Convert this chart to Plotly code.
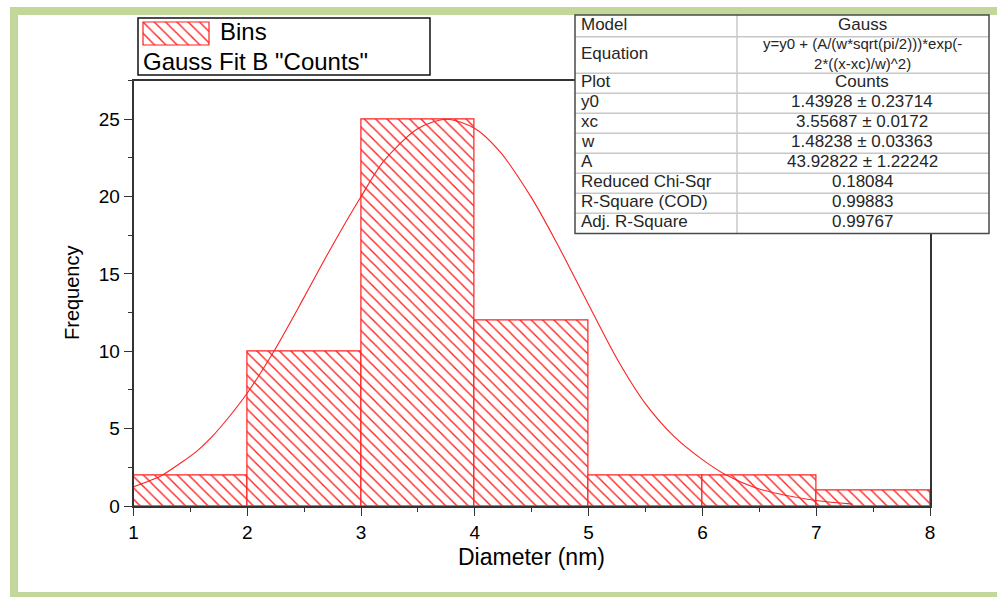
import plotly.graph_objects as go

W, H = 997, 597

# ---------------- data ----------------
bin_left = [1, 2, 3, 4, 5, 6, 7]
bin_right = [2, 3, 4, 5, 6, 7, 8]
bin_counts = [2, 10, 25, 12, 2, 2, 1]

fit_x = [1.0, 1.24, 1.41, 1.55, 1.68, 1.85, 2.0, 2.23, 2.5, 2.73, 3.0, 3.2, 3.5,
         3.75, 4.0, 4.22, 4.5, 4.72, 5.0, 5.25, 5.5, 5.75, 6.0, 6.21, 6.5, 7.0, 7.32]
fit_y = [1.25, 1.94, 2.76, 3.5, 4.4, 5.85, 7.3, 9.95, 13.5, 16.6, 20.0, 22.3, 24.4,
         25.0, 24.4, 22.9, 19.9, 17.0, 13.0, 9.5, 6.6, 4.5, 3.0, 2.0, 1.1, 0.35, 0.12]

x_ticks = [1, 2, 3, 4, 5, 6, 7, 8]
y_ticks = [0, 5, 10, 15, 20, 25]

table_labels = ["Model", "Equation", "Plot", "y0", "xc", "w", "A",
                "Reduced Chi-Sqr", "R-Square (COD)", "Adj. R-Square"]
table_values = ["Gauss", "y=y0 + (A/(w*sqrt(pi/2)))*exp(-<br>2*((x-xc)/w)^2)", "Counts",
                "1.43928 ± 0.23714", "3.55687 ± 0.0172", "1.48238 ± 0.03363",
                "43.92822 ± 1.22242", "0.18084", "0.99883", "0.99767"]

legend_labels = ["Bins", 'Gauss Fit B "Counts"']
x_title = "Diameter (nm)"
y_title = "Frequency"

# ---------------- layout constants (pixels) ----------------
FONT = "Liberation Sans, Arial, sans-serif"
RED = "#ff2020"
AXC = "#333333"
GREEN = "#c4d79b"

PLOT_L, PLOT_R, PLOT_T, PLOT_B = 133.5, 930, 80.5, 506
SWATCH = (143, 209, 22, 45)        # left, right, top, bottom
LEGEND_BOX = (138, 430, 18, 75)

TAB_L, TAB_M, TAB_R = 575, 737, 989
TAB_ROW_EDGES = [15, 36.7, 73.3, 93.3, 113.3, 133.3, 153.3, 173.3, 193.3, 213.3, 233.5]


def fx(px):
    return px / W


def fy(py):
    return 1 - py / H


def prect(x0, x1, y0, y1, **kw):
    d = dict(type="rect", xref="paper", yref="paper",
             x0=fx(x0), x1=fx(x1), y0=fy(y1), y1=fy(y0))
    d.update(kw)
    return d


def pline(x0, y0, x1, y1, **kw):
    d = dict(type="line", xref="paper", yref="paper",
             x0=fx(x0), x1=fx(x1), y0=fy(y0), y1=fy(y1))
    d.update(kw)
    return d


fig = go.Figure()

hatch = dict(shape="\\", size=8, solidity=0.17, fgcolor=RED, bgcolor="white", fillmode="replace")

# histogram bars
centers = [(a + b) / 2 for a, b in zip(bin_left, bin_right)]
widths = [b - a for a, b in zip(bin_left, bin_right)]
fig.add_trace(go.Bar(
    x=centers, y=bin_counts, width=widths,
    marker=dict(color="white", line=dict(color=RED, width=1.2), pattern=hatch),
    showlegend=False, xaxis="x", yaxis="y"))

# gauss fit curve
fig.add_trace(go.Scatter(
    x=fit_x, y=fit_y, mode="lines",
    line=dict(color=RED, width=1.1, shape="spline", smoothing=0.8),
    showlegend=False, xaxis="x", yaxis="y"))

# legend swatch: one hatched bar filling a tiny subplot
fig.add_trace(go.Bar(
    x=[0], y=[1], width=[1],
    marker=dict(color="white", line=dict(color=RED, width=0), pattern=hatch),
    showlegend=False, hoverinfo="skip", xaxis="x2", yaxis="y2"))

shapes = []
annotations = []

# green frame (fully inside the page)
shapes += [
    prect(10, W, 7, 15, fillcolor=GREEN, line=dict(width=0), layer="below"),
    prect(10, 18, 7, H, fillcolor=GREEN, line=dict(width=0), layer="below"),
    prect(10, W, 592, H, fillcolor=GREEN, line=dict(width=0), layer="below"),
]

# legend box, swatch outline and texts
shapes.append(prect(*LEGEND_BOX, line=dict(color="#111111", width=1.5), layer="below"))
shapes.append(prect(*SWATCH, line=dict(color=RED, width=1.2), layer="above"))
annotations += [
    dict(xref="paper", yref="paper", x=fx(218), y=fy(32), text=legend_labels[0],
         showarrow=False, xanchor="left", yanchor="middle",
         font=dict(family=FONT, size=24, color="black")),
    dict(xref="paper", yref="paper", x=fx(141), y=fy(62), text=legend_labels[1],
         showarrow=False, xanchor="left", yanchor="middle",
         font=dict(family=FONT, size=24, color="black")),
]

# axis titles
annotations += [
    dict(xref="paper", yref="paper", x=fx(531), y=fy(557), text=x_title, showarrow=False,
         xanchor="center", yanchor="middle", font=dict(family=FONT, size=23, color="black")),
    dict(xref="paper", yref="paper", x=fx(72), y=fy(293), text=y_title, showarrow=False,
         textangle=-90, xanchor="center", yanchor="middle",
         font=dict(family=FONT, size=20, color="black")),
]

# parameter table: white background, grid, border, texts
shapes.append(prect(TAB_L, TAB_R, TAB_ROW_EDGES[0], TAB_ROW_EDGES[-1],
                    fillcolor="white", line=dict(width=0), layer="above"))
for yb in TAB_ROW_EDGES[1:-1]:
    shapes.append(pline(TAB_L, yb, TAB_R, yb, line=dict(color="#c8c8c8", width=1.5),
                        layer="above"))
shapes.append(pline(TAB_M, TAB_ROW_EDGES[0], TAB_M, TAB_ROW_EDGES[-1],
                    line=dict(color="#c8c8c8", width=1.5), layer="above"))
shapes.append(prect(TAB_L, TAB_R, TAB_ROW_EDGES[0], TAB_ROW_EDGES[-1],
                    line=dict(color="#4a4a4a", width=1.5), layer="above"))

tab_font = dict(family=FONT, size=17, color="#262626")
eq_font = dict(family=FONT, size=15, color="#262626")
for i, (lab, val) in enumerate(zip(table_labels, table_values)):
    yc = (TAB_ROW_EDGES[i] + TAB_ROW_EDGES[i + 1]) / 2 - 1.5
    multi = "<br>" in val
    annotations.append(dict(xref="paper", yref="paper", x=fx(TAB_L + 4), y=fy(yc), text=lab,
                            showarrow=False, xanchor="left", yanchor="middle", font=tab_font))
    annotations.append(dict(xref="paper", yref="paper", x=fx((TAB_M + TAB_R) / 2 - 1),
                            y=fy(yc - 0.5 if multi else yc),
                            text=val, showarrow=False, xanchor="center", yanchor="middle",
                            font=eq_font if multi else tab_font, align="center"))

axis_common = dict(ticks="outside", ticklen=8, tickwidth=1.3, tickcolor=AXC,
                   showline=True, linecolor=AXC, linewidth=1.5, mirror=True,
                   showgrid=False, zeroline=False, automargin=False,
                   tickfont=dict(family=FONT, size=19, color="black"))

fig.update_layout(
    width=W, height=H, autosize=False,
    margin=dict(l=0, r=0, t=0, b=0, pad=0, autoexpand=False),
    paper_bgcolor="white", plot_bgcolor="rgba(0,0,0,0)",
    bargap=0, showlegend=False,
    xaxis=dict(domain=[fx(PLOT_L), fx(PLOT_R)], range=[1, 8], tickvals=x_ticks, anchor="y",
               minor=dict(dtick=0.5, ticks="outside", ticklen=4, tickwidth=1.3, tickcolor=AXC),
               **axis_common),
    yaxis=dict(domain=[fy(PLOT_B), fy(PLOT_T)], range=[0, 27.5], tickvals=y_ticks, anchor="x",
               minor=dict(dtick=2.5, ticks="outside", ticklen=4, tickwidth=1.3, tickcolor=AXC),
               **axis_common),
    xaxis2=dict(domain=[fx(SWATCH[0]), fx(SWATCH[1])], range=[-0.5, 0.5], visible=False,
                anchor="y2", fixedrange=True),
    yaxis2=dict(domain=[fy(SWATCH[3]), fy(SWATCH[2])], range=[0, 1], visible=False,
                anchor="x2", fixedrange=True),
    shapes=shapes,
    annotations=annotations,
)

fig.write_html("out.html", config={"displayModeBar": False})
